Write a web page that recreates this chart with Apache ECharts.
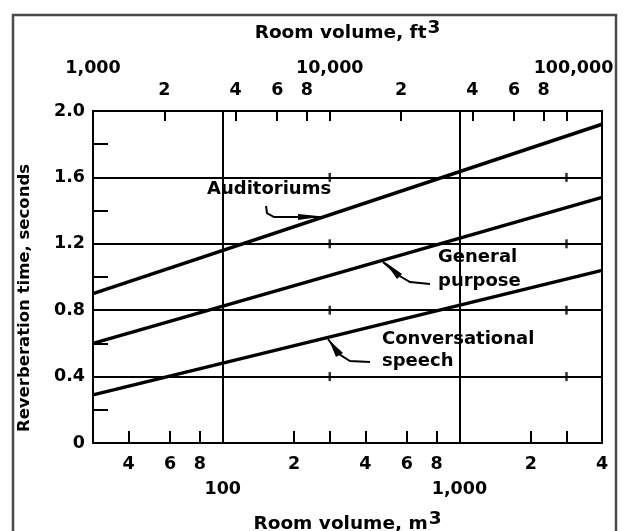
<!DOCTYPE html>
<html>
<head>
<meta charset="utf-8">
<script src="https://cdn.jsdelivr.net/npm/echarts@6/dist/echarts.min.js"></script>
<style>
  html, body { margin: 0; padding: 0; background: #fff; }
  #chart { width: 626px; height: 531px; }
</style>
</head>
<body>
<div id="chart"></div>
<script>
// room volume (m3) at both ends of each line; lines are straight on the log scale
const volumes = [28.3168, 4000];
const auditoriums = [0.90, 1.92];
const generalPurpose = [0.60, 1.48];
const conversational = [0.29, 1.04];

// tick positions
const m3Ticks = [40, 60, 80, 200, 400, 600, 800, 2000];
const m3Digits = [40, 60, 80, 200, 400, 600, 800, 2000, 4000];
const m3Decades = [100, 1000];
const ftTicks = [2000, 4000, 6000, 8000, 10000, 20000, 40000, 60000, 80000, 100000];
const ftDigits = [2000, 4000, 6000, 8000, 20000, 40000, 60000, 80000];
const ftDecades = [1000, 10000, 100000];
const crossFt = [10000, 100000];
const crossTimes = [0.4, 0.8, 1.2, 1.6];

const M3_PER_FT3 = 0.0283168;
const lg = (v) => Math.log10(v);
const ftPos = (v) => lg(v * M3_PER_FT3);
const xMin = ftPos(1000);
const xMax = lg(4000);

const FONT = "'DejaVu Sans', sans-serif";
const black = "#000";

function firstDigit(n) {
  return String(Math.round(n))[0];
}

const hidden = {
  type: "value",
  min: xMin,
  max: xMax,
  axisLine: { show: false },
  axisTick: { show: false },
  axisLabel: { show: false },
  splitLine: { show: false },
};

const labelStyle = {
  show: true,
  color: black,
  fontFamily: FONT,
  fontWeight: "bold",
  fontSize: 17.5,
};

const titleRich = {
  a: { fontFamily: FONT, fontWeight: "bold", fontSize: 18.5, color: black },
  s: { fontFamily: FONT, fontWeight: "bold", fontSize: 18.5, color: black, padding: [0, 0, 9, 1] },
};

let chart = echarts.init(document.getElementById("chart"));

chart.setOption({
  animation: false,
  backgroundColor: "#fff",
  grid: { left: 93, right: 24, top: 111, bottom: 88, outerBoundsMode: "none", containLabel: false },
  xAxis: [
    {
      // bottom: m3 digits
      ...hidden,
      position: "bottom",
      axisLine: { show: true, onZero: false, lineStyle: { color: black, width: 2 } },
      axisTick: {
        show: true,
        inside: true,
        length: 12,
        lineStyle: { color: black, width: 2 },
        customValues: m3Ticks.map(lg).concat(crossFt.map(ftPos)),
      },
      axisLabel: {
        ...labelStyle,
        margin: 12,
        customValues: m3Digits.map(lg),
        formatter: (v) => firstDigit(Math.pow(10, v)),
      },
    },
    {
      // bottom: m3 decades + vertical grid lines
      ...hidden,
      position: "bottom",
      offset: 28,
      axisTick: { show: false, customValues: m3Decades.map(lg) },
      axisLabel: {
        ...labelStyle,
        margin: 9,
        customValues: m3Decades.map(lg),
        formatter: (v) => Math.round(Math.pow(10, v)).toLocaleString("en-US"),
      },
      splitLine: { show: true, lineStyle: { color: black, width: 2 } },
      name: "{a|Room volume, m}{s|3}",
      nameLocation: "middle",
      nameGap: 39,
      nameTextStyle: { rich: titleRich },
    },
    {
      // top: ft3 digits
      ...hidden,
      position: "top",
      axisLine: { show: true, onZero: false, lineStyle: { color: black, width: 2 } },
      axisTick: {
        show: true,
        inside: true,
        length: 10,
        lineStyle: { color: black, width: 2 },
        customValues: ftTicks.map(ftPos),
      },
      axisLabel: {
        ...labelStyle,
        margin: 12,
        customValues: ftDigits.map(ftPos),
        formatter: (v) => firstDigit(Math.pow(10, v) / M3_PER_FT3),
      },
    },
    {
      // top: ft3 decades
      ...hidden,
      position: "top",
      offset: 24,
      axisLabel: {
        ...labelStyle,
        margin: 10,
        customValues: ftDecades.map(ftPos),
        formatter: (v) => {
          const n = Math.round(Math.pow(10, v) / M3_PER_FT3 / 1000) * 1000;
          return n === 100000 ? "{r|100,000}" : n.toLocaleString("en-US");
        },
        rich: { r: { ...labelStyle, padding: [0, 0, 0, 14] } },
      },
      name: "{a|Room volume, ft}{s|3}",
      nameLocation: "middle",
      nameGap: 40,
      nameTextStyle: { rich: titleRich },
    },
  ],
  yAxis: [
    {
      type: "value",
      min: 0,
      max: 2,
      interval: 0.4,
      axisLine: { show: true, onZero: false, lineStyle: { color: black, width: 2 } },
      axisTick: { show: false, inside: true },
      minorTick: { show: true, splitNumber: 2, length: 15, lineStyle: { color: black, width: 2 } },
      axisLabel: {
        ...labelStyle,
        margin: 8,
        formatter: (v) => (v === 0 ? "0" : v.toFixed(1)),
      },
      splitLine: { show: true, lineStyle: { color: black, width: 2 } },
      name: "Reverberation time, seconds",
      nameLocation: "middle",
      nameGap: 60,
      nameTextStyle: {
        fontFamily: FONT,
        fontWeight: "bold",
        fontSize: 16.5,
        color: black,
        padding: [0, 42, 0, 0],
      },
    },
    {
      type: "value",
      min: 0,
      max: 2,
      position: "right",
      axisLine: { show: true, lineStyle: { color: black, width: 2 } },
      axisTick: { show: false },
      axisLabel: { show: false },
      splitLine: { show: false },
    },
  ],
  series: [
    ["Auditoriums", auditoriums],
    ["General purpose", generalPurpose],
    ["Conversational speech", conversational],
  ]
    .map(([name, vals]) => ({
      name: name,
      type: "line",
      symbol: "none",
      silent: true,
      lineStyle: { color: black, width: 3.5 },
      data: volumes.map((v, i) => [lg(v), vals[i]]),
    }))
    .concat([
      {
        name: "marks",
        type: "scatter",
        silent: true,
        symbol: "rect",
        symbolSize: [2.5, 9],
        itemStyle: { color: black },
        data: crossFt.flatMap((f) => crossTimes.map((t) => [ftPos(f), t])),
      },
    ]),
  graphic: [
    {
      type: "rect",
      shape: { x: 13, y: 15, width: 603, height: 540 },
      style: { fill: null, stroke: "#4a4a4a", lineWidth: 2.5 },
      silent: true,
    },
    // labels and leader arrows
    { type: "text", left: 207, top: 180, style: { text: "Auditoriums", font: "bold 18px " + FONT, fill: black } },
    { type: "polyline", shape: { points: [[266, 206], [267, 213], [274, 217], [322, 217]] }, style: { stroke: black, lineWidth: 2, fill: null } },
    { type: "polygon", shape: { points: [[298, 214], [323, 216.5], [298, 220]] }, style: { fill: black } },

    { type: "text", left: 438, top: 248, style: { text: "General", font: "bold 18px " + FONT, fill: black } },
    { type: "text", left: 438, top: 272, style: { text: "purpose", font: "bold 18px " + FONT, fill: black } },
    { type: "polyline", shape: { points: [[383, 262], [398, 275], [410, 282], [430, 284]] }, style: { stroke: black, lineWidth: 2, fill: null } },
    { type: "polygon", shape: { points: [[385, 262], [402, 274], [397, 279]] }, style: { fill: black } },

    { type: "text", left: 382, top: 330, style: { text: "Conversational", font: "bold 18px " + FONT, fill: black } },
    { type: "text", left: 382, top: 352, style: { text: "speech", font: "bold 18px " + FONT, fill: black } },
    { type: "polyline", shape: { points: [[328, 339], [339, 354], [350, 361], [370, 362]] }, style: { stroke: black, lineWidth: 2, fill: null } },
    { type: "polygon", shape: { points: [[329, 340], [343, 353], [336, 357]] }, style: { fill: black } },
  ],
});
</script>
</body>
</html>
